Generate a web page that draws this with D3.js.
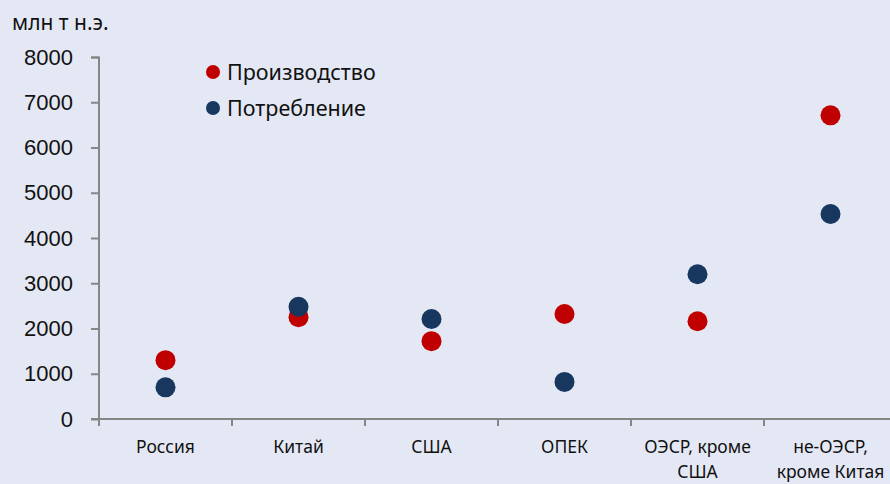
<!DOCTYPE html>
<html>
<head>
<meta charset="utf-8">
<script src="https://cdn.jsdelivr.net/npm/d3@7"></script>
<style>
  body { margin: 0; background: #e4e8f4; }
  svg { display: block; font-family: "Noto Sans", "Open Sans", sans-serif; }
</style>
</head>
<body>
<div id="chart"></div>
<script>
// data
const categories = [["Россия"], ["Китай"], ["США"], ["ОПЕК"], ["ОЭСР, кроме", "США"], ["не-ОЭСР,", "кроме Китая"]]
const production = [1300, 2250, 1720, 2320, 2160, 6710]
const consumption = [700, 2480, 2210, 820, 3200, 4530]
const yTicks = [0, 1000, 2000, 3000, 4000, 5000, 6000, 7000, 8000]
const seriesNames = ["Производство", "Потребление"]
const seriesColors = ["#c00000", "#17375e"]

const W = 890, H = 484
const margin = { top: 57, right: -7, bottom: 65, left: 99 }
const width = W - margin.left - margin.right
const height = H - margin.top - margin.bottom

const svg = d3.select('#chart')
  .append("svg")
    .attr("width", W)
    .attr("height", H)

svg.append("rect").attr("width", W).attr("height", H).attr("fill", "#e4e8f4")

const g = svg.append("g")
  .attr("transform", "translate(" + margin.left + "," + margin.top + ")")

const x = d3.scaleBand()
  .domain(d3.range(categories.length))
  .range([0, width])

const y = d3.scaleLinear()
  .domain([0, 8000])
  .range([height, 0])

// y axis
const yAxis = g.append("g")
  .call(d3.axisLeft(y).tickValues(yTicks).tickSize(8).tickPadding(18).tickFormat(d3.format("d")))
yAxis.select(".domain").attr("stroke", "#868686").attr("stroke-width", 2).attr("d", "M-8,0.5H0V" + height)
yAxis.selectAll(".tick line").attr("stroke", "#868686").attr("stroke-width", 2)
yAxis.selectAll(".tick text").attr("fill", "#111").style("font-size", "22px")

// x axis - ticks at band boundaries
g.append("line")
  .attr("x1", -8).attr("x2", W - margin.left)
  .attr("y1", height).attr("y2", height)
  .attr("stroke", "#868686").attr("stroke-width", 2)

g.append("g").selectAll("line")
  .data(d3.range(categories.length))
  .enter()
  .append("line")
    .attr("x1", d => x(d)).attr("x2", d => x(d))
    .attr("y1", height).attr("y2", height + 7)
    .attr("stroke", "#868686").attr("stroke-width", 2)

g.append("g").selectAll("text")
  .data(categories)
  .enter()
  .append("text")
    .attr("x", (d, i) => x(i) + x.bandwidth() / 2)
    .attr("y", height + 34)
    .attr("text-anchor", "middle")
    .style("font-size", "17.5px")
    .attr("fill", "#111")
    .selectAll("tspan")
    .data(d => d)
    .enter()
    .append("tspan")
      .attr("x", function() { return this.parentNode.getAttribute("x") })
      .attr("dy", (d, i) => i == 0 ? 0 : 25)
      .text(d => d)

// points: production under consumption
const series = [production, consumption]
series.forEach(function(vals, s) {
  g.append("g").selectAll("circle")
    .data(vals)
    .enter()
    .append("circle")
      .attr("cx", (d, i) => x(i) + x.bandwidth() / 2)
      .attr("cy", d => y(d))
      .attr("r", 10)
      .attr("fill", seriesColors[s])
})

// unit label
svg.append("text")
  .attr("x", 12).attr("y", 30)
  .style("font-size", "21px")
  .attr("fill", "#111")
  .text("млн т н.э.")

// legend
const legend = svg.append("g")
  .selectAll("g")
  .data(seriesNames)
  .enter()
  .append("g")
  .attr("transform", (d, i) => "translate(213," + (72 + i * 36) + ")")
legend.append("circle").attr("r", 7).attr("fill", (d, i) => seriesColors[i])
legend.append("text")
  .attr("x", 14).attr("dy", "0.35em")
  .style("font-size", "21.5px")
  .attr("fill", "#111")
  .text(d => d)
</script>
</body>
</html>
